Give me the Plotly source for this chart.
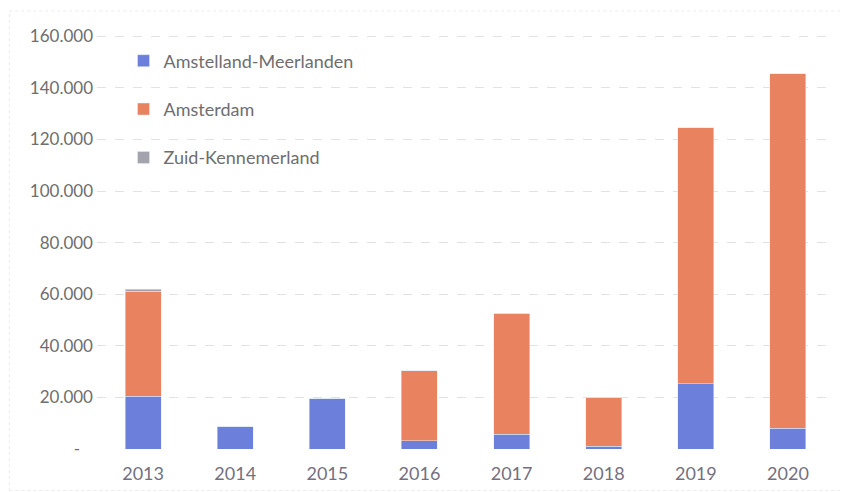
import plotly.graph_objects as go

years = ['2013', '2014', '2015', '2016', '2017', '2018', '2019', '2020']
amstelland = [20500, 8800, 19700, 3200, 5700, 1000, 25300, 8000]
amsterdam = [40700, 0, 0, 27200, 46900, 19100, 99300, 137400]
zuid_kennemerland = [800, 0, 0, 0, 0, 0, 0, 0]

tick_vals = [0, 20000, 40000, 60000, 80000, 100000, 120000, 140000, 160000]
tick_text = ['-\u00a0\u00a0\u00a0', '20.000', '40.000', '60.000', '80.000',
             '100.000', '120.000', '140.000', '160.000']

fig = go.Figure()

fig.add_trace(go.Bar(x=years, y=amstelland, name='Amstelland-Meerlanden',
                     marker=dict(color='#6b7fdb'), legendgroup='a'))
fig.add_trace(go.Bar(x=years, y=amsterdam, name='Amsterdam',
                     marker=dict(color='#e8825f'), legendgroup='b'))
fig.add_trace(go.Bar(x=years, y=zuid_kennemerland, name='Zuid-Kennemerland',
                     marker=dict(color='#a3a3ad'), legendgroup='c'))

# page has an 8px body margin, so the figure is a bit smaller than the window
fig.update_layout(
    barmode='stack',
    bargap=0.61,
    width=840,
    height=484,
    margin=dict(l=89, r=14, t=27, b=43),
    paper_bgcolor='white',
    plot_bgcolor='white',
    font=dict(family='Lato, sans-serif', size=17, color='#6e6e6e'),
    legend=dict(
        x=0.036, y=0.982, xanchor='left', yanchor='top',
        traceorder='grouped', tracegroupgap=22,
        font=dict(size=18, color='#6e6e6e'),
        bgcolor='rgba(0,0,0,0)',
    ),
    xaxis=dict(showgrid=False, showline=False, ticks='', automargin=False,
               tickfont=dict(size=18, color='#747080'), ticklabelstandoff=12),
    yaxis=dict(
        range=[0, 160500],
        tickvals=tick_vals,
        ticktext=tick_text,
        showgrid=True,
        gridcolor='#e2e2e2',
        griddash='dash',
        gridwidth=1,
        zeroline=False,
        ticks='',
        automargin=False,
        ticklabelstandoff=3,
        tickfont=dict(size=17),
    ),
    shapes=[dict(type='rect', xref='paper', yref='paper',
                 x0=-0.119, x1=1.015, y0=-0.1, y1=1.058,
                 line=dict(color='#ececec', width=1, dash='dot'))],
)

fig.write_html("out.html")
